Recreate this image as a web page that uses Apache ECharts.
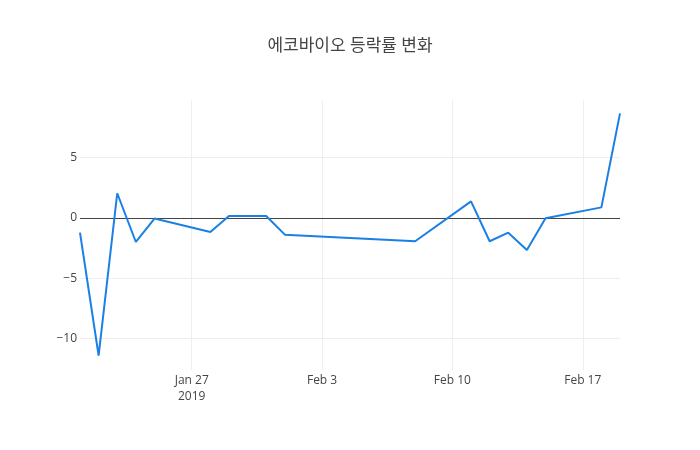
<!DOCTYPE html>
<html>
<head>
<meta charset="utf-8">
<title>에코바이오 등락률 변화</title>
<script src="https://cdn.jsdelivr.net/npm/echarts@6/dist/echarts.min.js"></script>
<style>
  html, body { margin: 0; padding: 0; background: #fff; }
  #chart { width: 700px; height: 450px; }
</style>
</head>
<body>
<div id="chart"></div>
<script>
// 거래일 (2019)
var dates = ['2019-01-21', '2019-01-22', '2019-01-23', '2019-01-24', '2019-01-25',
    '2019-01-28', '2019-01-29', '2019-01-30', '2019-01-31', '2019-02-01',
    '2019-02-08', '2019-02-11', '2019-02-12', '2019-02-13', '2019-02-14',
    '2019-02-15', '2019-02-18', '2019-02-19'];
// 등락률 (%)
var rates = [-1.22, -11.4, 2.05, -1.99, -0.05,
    -1.16, 0.17, 0.17, 0.17, -1.38,
    -1.93, 1.38, -1.93, -1.22, -2.65,
    -0.03, 0.88, 8.67];
var xTicks = ['2019-01-27', '2019-02-03', '2019-02-10', '2019-02-17'];
var yTicks = [-10, -5, 0, 5];

var MONTHS = ['Jan', 'Feb', 'Mar', 'Apr', 'May', 'Jun', 'Jul', 'Aug', 'Sep', 'Oct', 'Nov', 'Dec'];
function toMs(s) {
    var p = s.split('-');
    return Date.UTC(+p[0], +p[1] - 1, +p[2]);
}

var font = '"Open Sans", "Noto Sans CJK KR", sans-serif';
var xTickMs = xTicks.map(toMs);

var myChart = echarts.init(document.getElementById('chart'), null, {renderer: 'canvas'});
myChart.setOption({
    backgroundColor: '#fff',
    animation: false,
    title: {
        text: '에코바이오 등락률 변화',
        left: 'center',
        top: 33,
        textStyle: {
            fontFamily: font,
            fontSize: 17,
            fontWeight: 'normal',
            color: '#444'
        }
    },
    grid: {left: 80, right: 80, top: 100, bottom: 80},
    xAxis: {
        type: 'value',
        min: toMs(dates[0]),
        max: toMs(dates[dates.length - 1]),
        axisLine: {show: false},
        axisTick: {show: false, customValues: xTickMs},
        splitLine: {show: true, lineStyle: {color: '#eee', width: 1}},
        axisLabel: {
            customValues: xTickMs,
            margin: 3,
            color: '#444',
            fontFamily: font,
            fontSize: 12,
            lineHeight: 16,
            formatter: function (v) {
                var d = new Date(v);
                var s = MONTHS[d.getUTCMonth()] + ' ' + d.getUTCDate();
                if (v === xTickMs[0]) s += '\n' + d.getUTCFullYear();
                return s;
            }
        }
    },
    yAxis: {
        type: 'value',
        min: -12.6,
        max: 9.78,
        axisLine: {show: false},
        axisTick: {show: false, customValues: yTicks},
        splitLine: {show: true, lineStyle: {color: '#eee', width: 1}},
        axisLabel: {
            customValues: yTicks,
            margin: 3,
            color: '#444',
            fontFamily: font,
            fontSize: 12,
            formatter: function (v) {
                return v < 0 ? '\u2212' + Math.abs(v) : String(v);
            }
        }
    },
    series: [{
        type: 'line',
        data: dates.map(function (d, i) { return [toMs(d), rates[i]]; }),
        showSymbol: false,
        symbol: 'none',
        lineStyle: {color: '#1a80e5', width: 2},
        itemStyle: {color: '#1a80e5'},
        markLine: {
            silent: true,
            symbol: 'none',
            label: {show: false},
            lineStyle: {color: '#444', width: 1, type: 'solid'},
            data: [{yAxis: 0}],
            z: 1
        }
    }]
});
</script>
</body>
</html>
